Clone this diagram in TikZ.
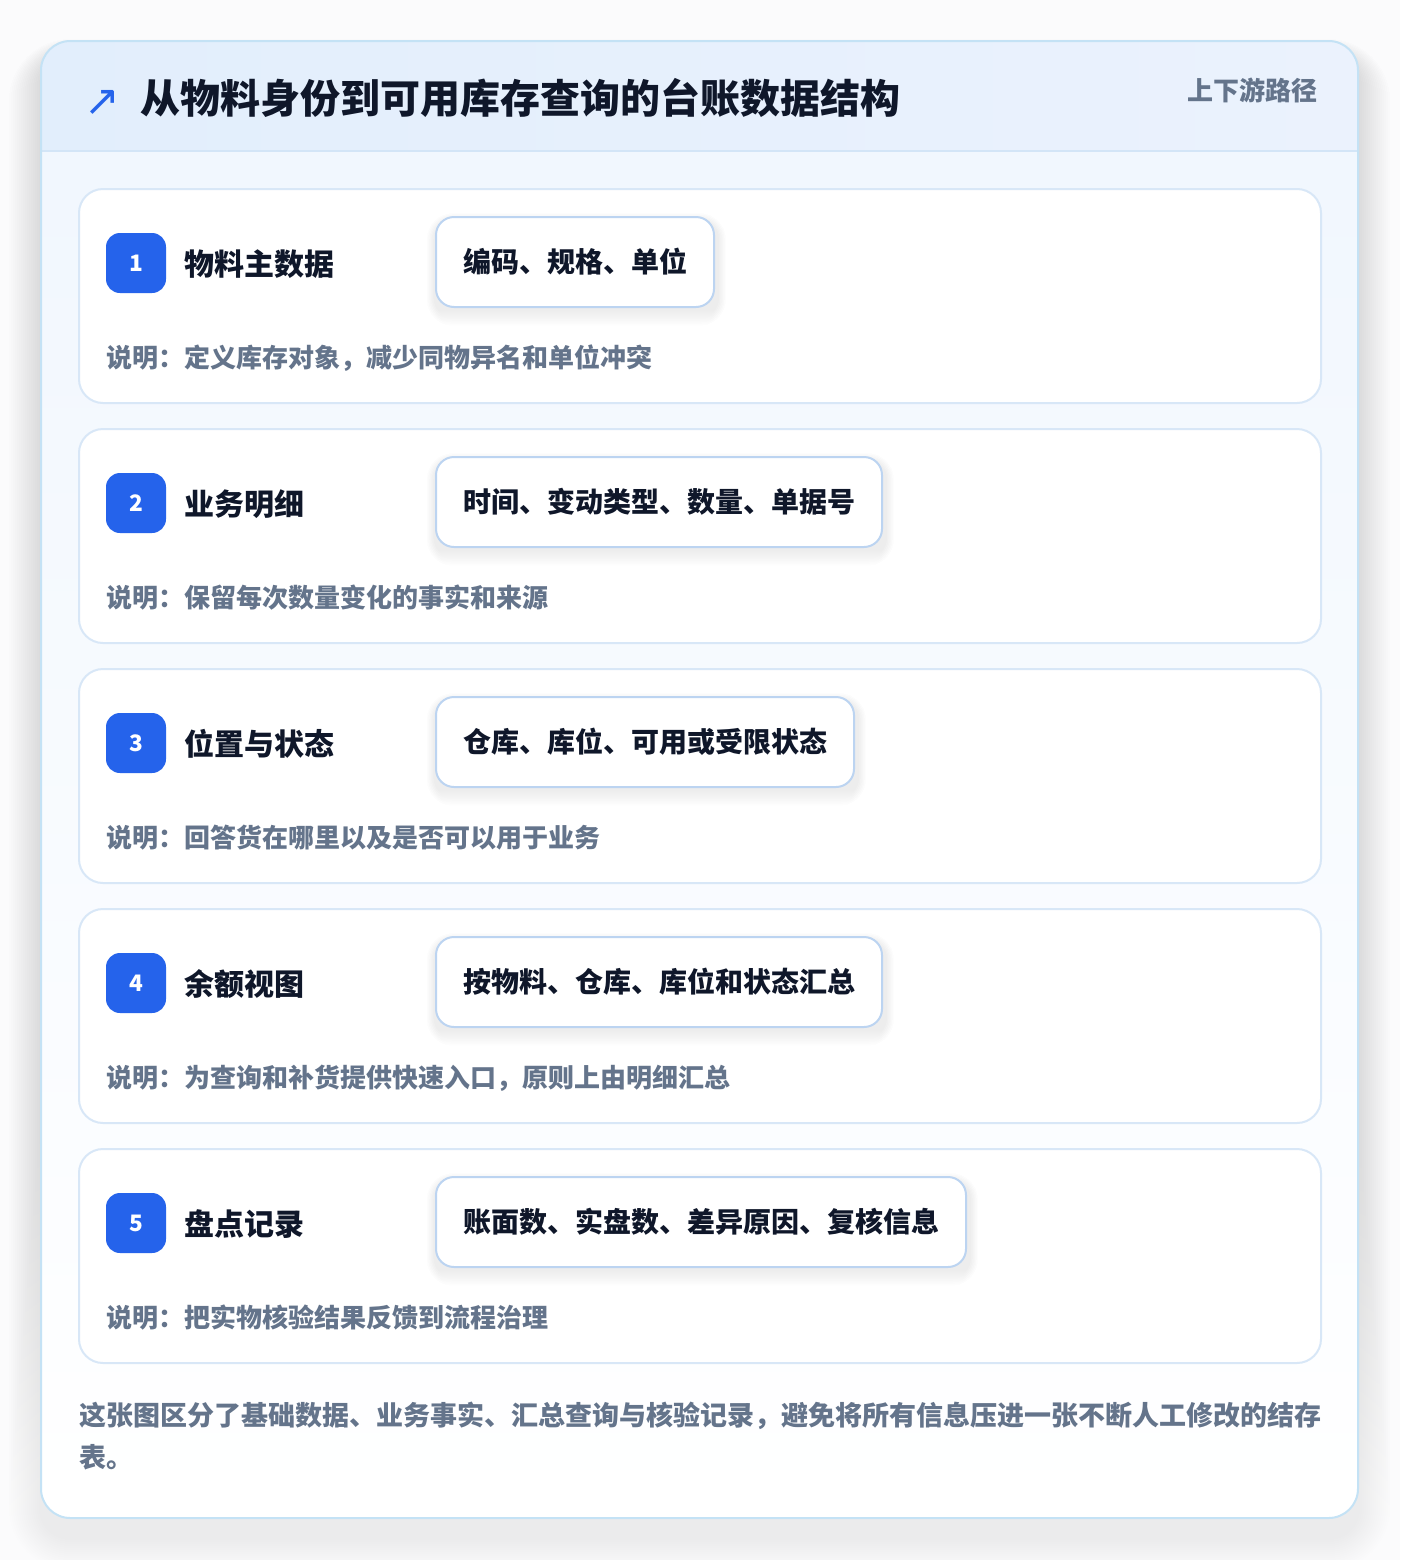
\documentclass[tikz,border=0pt]{standalone}
\usepackage{fontspec}
\setmainfont{Noto Sans CJK SC}
\newfontfamily\symfont{DejaVu Sans}
\definecolor{pagebg}{HTML}{FBFBFC}
\definecolor{cardline}{HTML}{C4E2F5}
\definecolor{hdrL}{HTML}{E2EEFC}
\definecolor{hdrR}{HTML}{EBF2FD}
\definecolor{hdrline}{HTML}{D3E5F7}
\definecolor{bodyTop}{HTML}{F1F7FE}
\definecolor{rowline}{HTML}{D8E7F7}
\definecolor{pillline}{HTML}{BCD4F1}
\definecolor{accent}{HTML}{2563EB}
\definecolor{ink}{HTML}{0F172A}
\definecolor{muted}{HTML}{64748B}
\definecolor{shade}{HTML}{1E293B}
\begin{document}
\begin{tikzpicture}[x=0.75pt,y=-0.75pt,
  cardshape/.style={rounded corners=22pt},
  rowcard/.style={draw=rowline, line width=1.5pt, fill=white, rounded corners=18pt},
  pill/.style={draw=pillline, line width=1.5pt, fill=white, rounded corners=13.5pt,
    minimum height=67.5pt, inner xsep=20.25pt, inner ysep=0pt, text=ink,
    font=\fontsize{21pt}{25pt}\selectfont\bfseries},
  badge/.style={fill=accent, rounded corners=10.5pt, minimum size=45pt, inner sep=0pt,
    text=white, font=\fontsize{17pt}{20pt}\selectfont\bfseries},
  labeltext/.style={anchor=base west, inner sep=0pt, text=ink, font=\fontsize{22.5pt}{27pt}\selectfont\bfseries},
  notetext/.style={anchor=base west, inner sep=0pt, text=muted, font=\fontsize{19.5pt}{23pt}\selectfont\bfseries},
  footertext/.style={anchor=base west, inner sep=0pt, text=muted, font=\fontsize{20.25pt}{24pt}\selectfont\bfseries},
]
\useasboundingbox (0,0) rectangle (1400,1560);
\fill[pagebg] (0,0) rectangle (1400,1560);
% outer card shadow (layered)
\foreach \k in {1,...,16}{
  \fill[shade, opacity=0.0055, rounded corners=22pt+1.5*\k pt]
    (41-2*\k, 41+14-1.0*\k) rectangle (1358+2*\k, 1518+20+2*\k);
}
% outer card
\begin{scope}
  \clip[cardshape] (41,41) rectangle (1358,1518);
  \fill[white] (41,41) rectangle (1358,1518);
  \shade[top color=bodyTop, bottom color=white] (41,151) rectangle (1358,1518);
  \shade[left color=hdrL, right color=hdrR] (41,41) rectangle (1358,151);
  \draw[hdrline, line width=1.5pt] (41,151) -- (1358,151);
\end{scope}
\draw[cardshape, cardline, line width=1.5pt] (41,41) rectangle (1358,1518);
% header
\node[anchor=base west, inner sep=0pt, text=accent, font=\symfont\fontsize{32pt}{34pt}\selectfont] (arrow) at (84,115) {↗};
\node[anchor=base west, inner sep=0pt, text=ink, font=\fontsize{30pt}{36pt}\selectfont\bfseries] (title) at (140,113) {从物料身份到可用库存查询的台账数据结构};
\node[anchor=base east, inner sep=0pt, text=muted, font=\fontsize{19.5pt}{23pt}\selectfont\bfseries] (path) at (1318,100) {上下游路径};
% rows
\foreach \i/\lab/\pilltxt/\notetxt in {
  1/物料主数据/编码、规格、单位/说明：定义库存对象，减少同物异名和单位冲突,
  2/业务明细/时间、变动类型、数量、单据号/说明：保留每次数量变化的事实和来源,
  3/位置与状态/仓库、库位、可用或受限状态/说明：回答货在哪里以及是否可以用于业务,
  4/余额视图/按物料、仓库、库位和状态汇总/说明：为查询和补货提供快速入口，原则上由明细汇总,
  5/盘点记录/账面数、实盘数、差异原因、复核信息/说明：把实物核验结果反馈到流程治理}{
  \pgfmathsetmacro\rt{189+240*(\i-1)}
  \pgfmathsetmacro\rb{\rt+214}
  \draw[rowcard] (79,\rt) rectangle (1321,\rb);
  \node[badge] (badge\i) at (136,\rt+74) {\i};
  \node[labeltext] (label\i) at (184,\rt+86) {\lab};
  \node[pill, draw=none, fill=none, anchor=west, text opacity=0] (ghost\i) at (435,\rt+73) {\pilltxt};
  \foreach \s in {1,...,6}{
    \fill[shade, opacity=0.009, rounded corners=13.5pt+\s pt]
      ([xshift=-1.0*\s pt, yshift=-4pt+1.0*\s pt]ghost\i.north west) rectangle ([xshift=2pt+1.0*\s pt, yshift=-6pt-1.2*\s pt]ghost\i.south east);
  }
  \node[pill, anchor=west] (pill\i) at (435,\rt+73) {\pilltxt};
  \node[notetext] (note\i) at (106,\rt+178) {\notetxt};
}
% footer
\node[footertext] (footer1) at (79,1425.5) {这张图区分了基础数据、业务事实、汇总查询与核验记录，避免将所有信息压进一张不断人工修改的结存};
\node[footertext] (footer2) at (79,1467.5) {表。};
\end{tikzpicture}
\end{document}
